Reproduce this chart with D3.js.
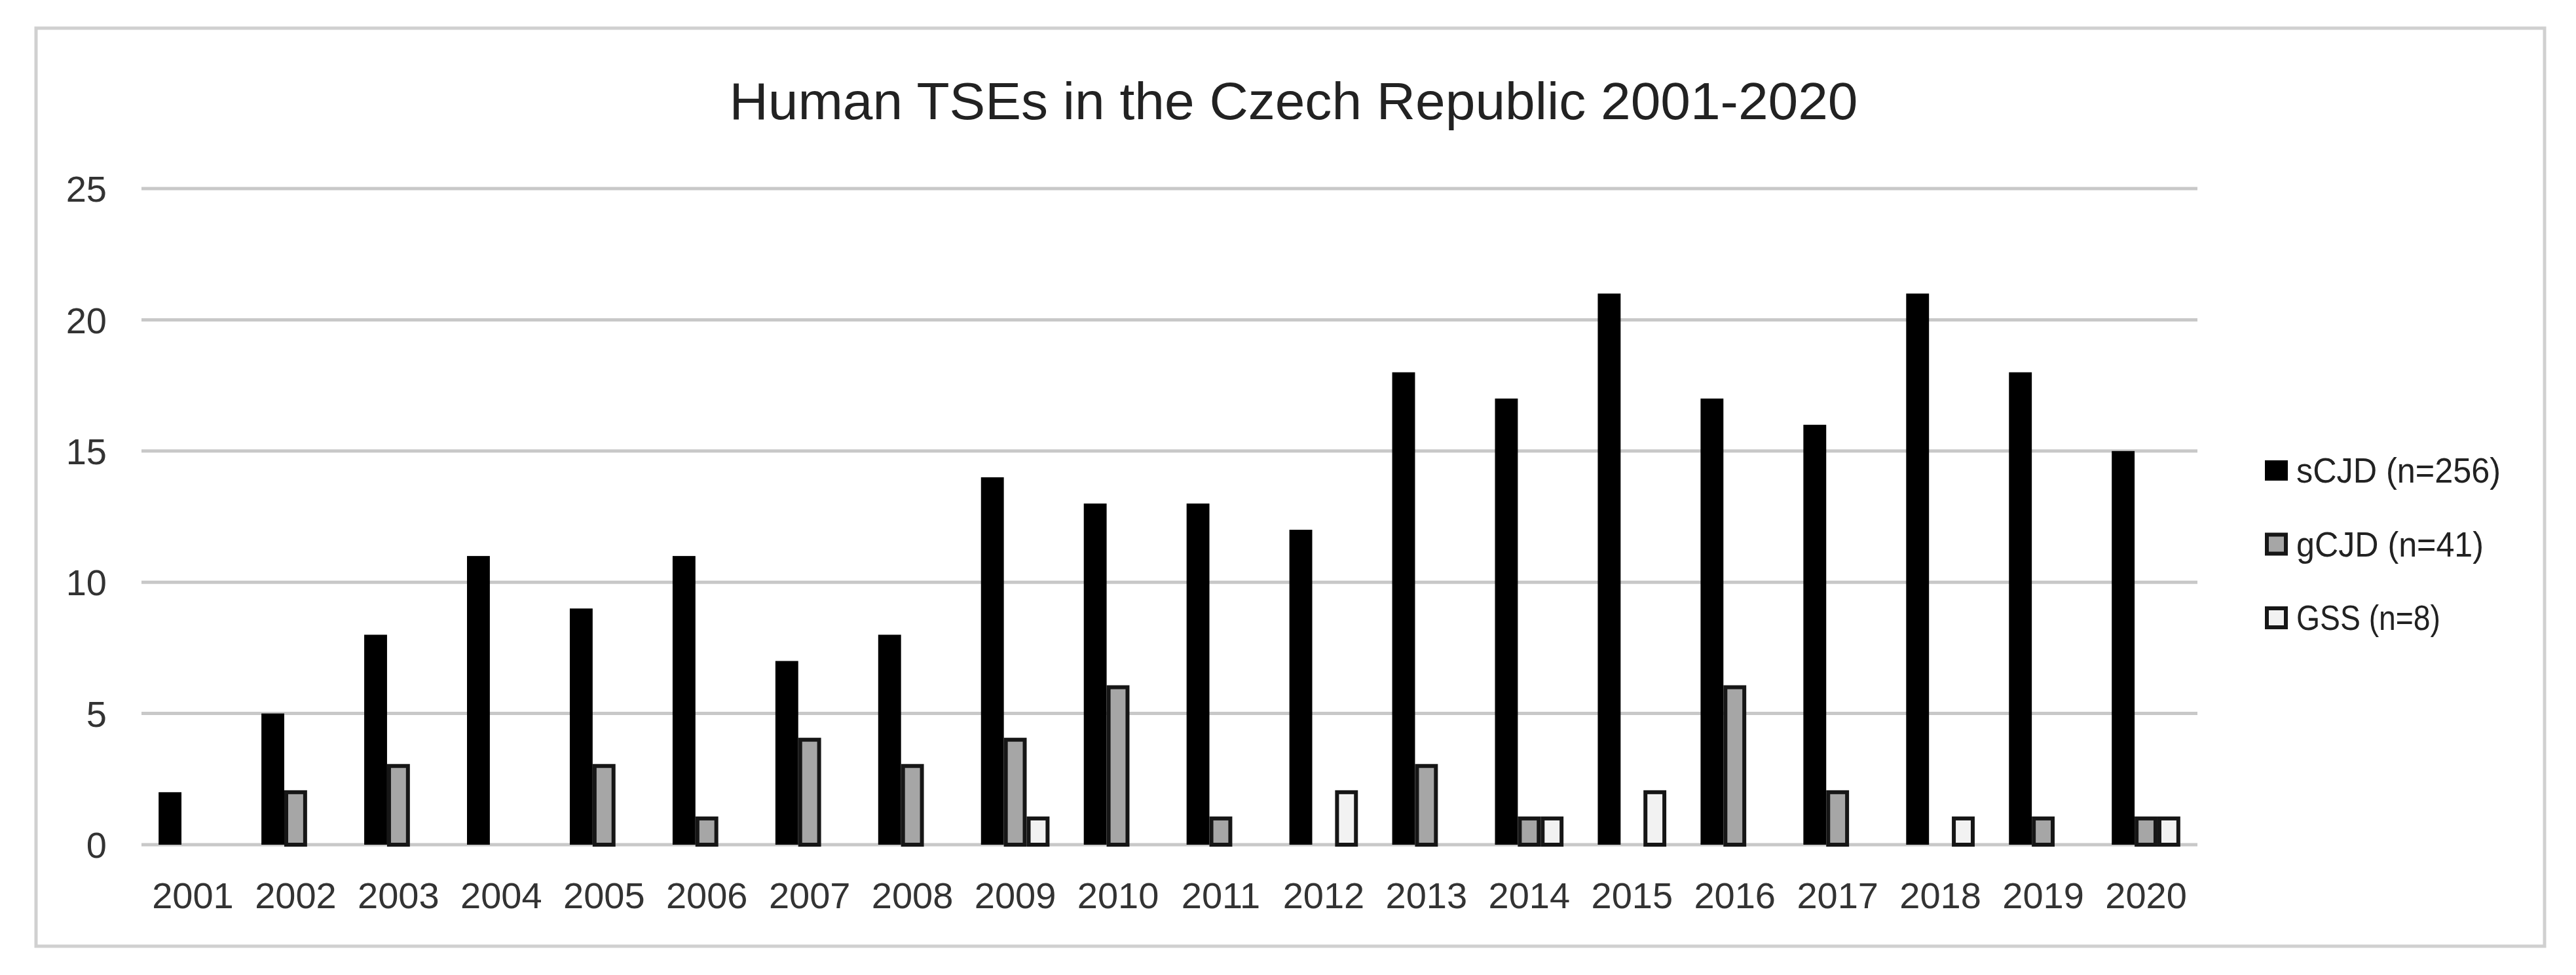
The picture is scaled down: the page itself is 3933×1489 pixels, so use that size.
<!DOCTYPE html>
<html>
<head>
<meta charset="utf-8">
<script src="https://cdn.jsdelivr.net/npm/d3@7"></script>
<style>
  html, body { margin: 0; padding: 0; background: #fff; }
  text { font-family: "Liberation Sans", Arial, sans-serif; }
</style>
</head>
<body>
<svg id="chart" width="3933" height="1489"></svg>
<script>
const years = ['2001','2002','2003','2004','2005','2006','2007','2008','2009','2010',
               '2011','2012','2013','2014','2015','2016','2017','2018','2019','2020'];
const sCJD = [2, 5, 8, 11, 9, 11, 7, 8, 14, 13, 13, 12, 18, 17, 21, 17, 16, 21, 18, 15];
const gCJD = [0, 2, 3, 0, 3, 1, 4, 3, 4, 6, 1, 0, 3, 1, 0, 6, 2, 0, 1, 1];
const GSS  = [0, 0, 0, 0, 0, 0, 0, 0, 1, 0, 0, 2, 0, 1, 2, 0, 0, 1, 0, 1];
const seriesNames = ['sCJD (n=256)', 'gCJD (n=41)', 'GSS (n=8)'];
const yTicks = [0, 5, 10, 15, 20, 25];
const title = 'Human TSEs in the Czech Republic 2001-2020';

const seriesStyle = [
  { fill: '#000000', stroke: 'none' },
  { fill: '#a6a6a6', stroke: '#161616' },
  { fill: '#f2f2f2', stroke: '#161616' }
];
const seriesData = [sCJD, gCJD, GSS];

const svg = d3.select('#chart');
const W = 3933, H = 1489;

// outer chart border
svg.append('rect')
  .attr('x', 55).attr('y', 43)
  .attr('width', 3885 - 55).attr('height', 1445 - 43)
  .attr('fill', '#fff').attr('stroke', '#d0d0d0').attr('stroke-width', 5);

const plot = { left: 216, right: 3355, top: 288, bottom: 1290 };

const x0 = d3.scaleBand().domain(years).range([plot.left, plot.right]).padding(0);
const x1 = d3.scaleBand().domain(d3.range(3)).range([0, x0.bandwidth()])
  .paddingInner(0).paddingOuter(0.75);
const y = d3.scaleLinear().domain([0, 25]).range([plot.bottom, plot.top]);

// gridlines
svg.append('g')
  .selectAll('line')
  .data(yTicks)
  .join('line')
  .attr('x1', plot.left).attr('x2', plot.right)
  .attr('y1', d => y(d)).attr('y2', d => y(d))
  .attr('stroke', '#c8c8c8').attr('stroke-width', 5);

// y labels
svg.append('g')
  .selectAll('text')
  .data(yTicks)
  .join('text')
  .attr('x', 163).attr('y', d => y(d))
  .attr('dy', '0.36em')
  .attr('text-anchor', 'end')
  .attr('font-size', 56)
  .attr('fill', '#333')
  .text(d => d);

// x labels
svg.append('g')
  .selectAll('text')
  .data(years)
  .join('text')
  .attr('x', d => x0(d) + x0.bandwidth() / 2)
  .attr('y', 1387)
  .attr('text-anchor', 'middle')
  .attr('font-size', 56)
  .attr('fill', '#333')
  .text(d => d);

// bars
const bars = [];
years.forEach((yr, i) => {
  seriesData.forEach((arr, s) => {
    if (arr[i] > 0) bars.push({ yr, s, v: arr[i] });
  });
});

svg.append('g')
  .selectAll('rect')
  .data(bars)
  .join('rect')
  .attr('x', d => x0(d.yr) + x1(d.s) + (d.s ? 3 : 0))
  .attr('width', d => x1.bandwidth() - (d.s ? 6 : 0))
  .attr('y', d => y(d.v))
  .attr('height', d => y(0) - y(d.v))
  .attr('fill', d => seriesStyle[d.s].fill)
  .attr('stroke', d => seriesStyle[d.s].stroke)
  .attr('stroke-width', 6);

// title
svg.append('text')
  .attr('x', 1975).attr('y', 182)
  .attr('text-anchor', 'middle')
  .attr('font-size', 80)
  .attr('fill', '#222')
  .attr('textLength', 1723)
  .attr('lengthAdjust', 'spacingAndGlyphs')
  .text(title);

// legend
const legendW = [312, 286, 220];
const legend = svg.append('g')
  .selectAll('g')
  .data(seriesNames)
  .join('g')
  .attr('transform', (d, i) => `translate(3458, ${737 + i * 112.5})`);

legend.append('rect')
  .attr('x', (d, i) => i ? 3 : 0)
  .attr('y', (d, i) => i ? -33 : -34)
  .attr('width', (d, i) => i ? 29 : 35)
  .attr('height', (d, i) => i ? 29 : 31)
  .attr('fill', (d, i) => seriesStyle[i].fill)
  .attr('stroke', (d, i) => seriesStyle[i].stroke)
  .attr('stroke-width', 6);

legend.append('text')
  .attr('x', 48).attr('y', 0)
  .attr('font-size', 54)
  .attr('fill', '#222')
  .attr('textLength', (d, i) => legendW[i])
  .attr('lengthAdjust', 'spacingAndGlyphs')
  .text(d => d);
</script>
</body>
</html>
